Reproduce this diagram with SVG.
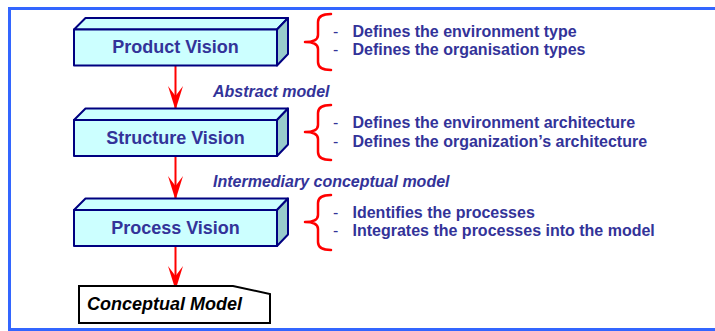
<svg xmlns="http://www.w3.org/2000/svg" width="715" height="331" viewBox="0 0 715 331">
<defs>
<style>
.front{fill:#ccffff;stroke:#000080;stroke-width:2;stroke-linejoin:round}
.top{fill:#ccffff;stroke:#000080;stroke-width:2;stroke-linejoin:round}
.side{fill:#99cccc;stroke:#000080;stroke-width:2;stroke-linejoin:round}
.bt{font-family:"Liberation Sans",Arial,sans-serif;font-weight:bold;font-size:18px;fill:#333399;text-anchor:middle}
.lbl{font-family:"Liberation Sans",Arial,sans-serif;font-weight:bold;font-style:italic;font-size:16px;fill:#333399}
.desc{font-family:"Liberation Sans",Arial,sans-serif;font-weight:bold;font-size:16px;fill:#333399}
.dash{font-family:"Liberation Sans",Arial,sans-serif;font-size:16px;fill:#333399}
.brace{fill:none;stroke:#ff0000;stroke-width:2.5;stroke-linecap:round;stroke-linejoin:round}
.conn{stroke:#ff0000;stroke-width:2;fill:none}
</style>
<marker id="ah" viewBox="0 0 24 16" refX="24" refY="8" markerWidth="24" markerHeight="16" markerUnits="userSpaceOnUse" orient="auto">
<path d="M24,8 L0,0.5 L10,8 L0,15.5 Z" fill="#ff0000"/>
</marker>
</defs>
<rect x="9.5" y="8.5" width="730" height="321" fill="none" stroke="#3366ff" stroke-width="3"/>

<g id="connectors">
<line class="conn" x1="175.5" y1="66" x2="175.5" y2="110" marker-end="url(#ah)"/>
<line class="conn" x1="175.5" y1="156" x2="175.5" y2="200" marker-end="url(#ah)"/>
<line class="conn" x1="175.5" y1="246" x2="175.5" y2="290" marker-end="url(#ah)"/>
</g>

<g id="product-vision">
<polygon class="top" points="74,29.5 85.5,18 288,18 277,29.5"/>
<polygon class="side" points="277,29.5 288,18 288,54 277,65.5"/>
<rect class="front" x="74" y="29.5" width="203" height="36"/>
<text class="bt" x="175.5" y="53">Product Vision</text>
</g>

<g id="structure-vision">
<polygon class="top" points="74,120 85.5,108.5 288,108.5 277,120"/>
<polygon class="side" points="277,120 288,108.5 288,144.5 277,156"/>
<rect class="front" x="74" y="120" width="203" height="36"/>
<text class="bt" x="175.5" y="143.5">Structure Vision</text>
</g>

<g id="process-vision">
<polygon class="top" points="74,210 85.5,198.5 288,198.5 277,210"/>
<polygon class="side" points="277,210 288,198.5 288,234.5 277,246"/>
<rect class="front" x="74" y="210" width="203" height="36"/>
<text class="bt" x="175.5" y="233.5">Process Vision</text>
</g>

<g id="conceptual-model">
<polygon points="79,286 233,286 270,294 270,323 79,323" fill="#ffffff" stroke="#000000" stroke-width="2" stroke-linejoin="miter"/>
<text x="87" y="310" font-family="Liberation Sans, Arial, sans-serif" font-weight="bold" font-style="italic" font-size="18" fill="#000000">Conceptual Model</text>
</g>

<g id="label-abstract">
<text class="lbl" x="213" y="97">Abstract model</text>
</g>
<g id="label-intermediary">
<text class="lbl" x="213" y="187">Intermediary conceptual model</text>
</g>

<g id="desc-product">
<path class="brace" d="M331,14 Q318,14 318,22 L318,35 Q318,42 305,42 Q318,42 318,49 L318,62 Q318,70 331,70"/>
<text class="dash" x="333" y="36.5">-</text>
<text class="desc" x="352.5" y="36.5">Defines the environment type</text>
<text class="dash" x="333" y="55">-</text>
<text class="desc" x="352.5" y="55">Defines the organisation types</text>
</g>

<g id="desc-structure">
<path class="brace" d="M331,105 Q318,105 318,113 L318,125 Q318,132 305,132 Q318,132 318,139 L318,152 Q318,160 331,160"/>
<text class="dash" x="333" y="127.5">-</text>
<text class="desc" x="352.5" y="127.5">Defines the environment architecture</text>
<text class="dash" x="333" y="146.5">-</text>
<text class="desc" x="352.5" y="146.5">Defines the organization’s architecture</text>
</g>

<g id="desc-process">
<path class="brace" d="M331,195 Q318,195 318,203 L318,215 Q318,222 305,222 Q318,222 318,229 L318,242 Q318,250 331,250"/>
<text class="dash" x="333" y="217.5">-</text>
<text class="desc" x="352.5" y="217.5">Identifies the processes</text>
<text class="dash" x="333" y="236">-</text>
<text class="desc" x="352.5" y="236">Integrates the processes into the model</text>
</g>
</svg>
